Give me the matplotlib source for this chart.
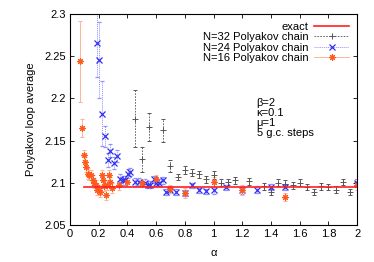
import matplotlib
matplotlib.use('Agg')
import matplotlib.pyplot as plt
from matplotlib.lines import Line2D
import numpy as np

# exact value
exact_x = [0.1, 2.0]
exact_y = [2.0955, 2.0955]

# N=32 Polyakov chain
a32 = [0.45, 0.5, 0.55, 0.65, 0.7, 0.75, 0.8, 0.85, 0.9, 0.95, 1.0, 1.05, 1.1, 1.15,
       1.25, 1.35, 1.4, 1.45, 1.5, 1.55, 1.6, 1.65, 1.7, 1.75, 1.8, 1.85, 1.9, 1.95, 2.0]
v32 = [2.176, 2.128, 2.166, 2.162, 2.12, 2.107, 2.115, 2.112, 2.110, 2.104, 2.109, 2.100,
       2.101, 2.103, 2.102, 2.096, 2.089, 2.100, 2.099, 2.097, 2.100, 2.095, 2.089, 2.096,
       2.095, 2.092, 2.101, 2.089, 2.101]
e32 = [0.034, 0.015, 0.017, 0.014, 0.007, 0.004, 0.005, 0.004, 0.004, 0.004, 0.005, 0.004,
       0.004, 0.004, 0.004, 0.004, 0.004, 0.004, 0.004, 0.004, 0.004, 0.004, 0.004, 0.004,
       0.004, 0.004, 0.004, 0.004, 0.004]

# N=24 Polyakov chain
a24 = [0.19, 0.205, 0.225, 0.245, 0.267, 0.28, 0.31, 0.325, 0.35, 0.37, 0.38, 0.405, 0.42,
       0.45, 0.48, 0.52, 0.545, 0.56, 0.585, 0.6, 0.62, 0.645, 0.67, 0.7, 0.74, 0.8, 0.85,
       0.9, 0.95, 1.0, 1.09, 1.2, 1.3, 1.4, 1.5, 2.0]
v24 = [2.265, 2.245, 2.182, 2.155, 2.127, 2.138, 2.123, 2.132, 2.105, 2.103, 2.103, 2.111,
       2.113, 2.101, 2.101, 2.100, 2.098, 2.098, 2.104, 2.100, 2.100, 2.103, 2.089, 2.092,
       2.089, 2.088, 2.097, 2.091, 2.090, 2.091, 2.095, 2.091, 2.092, 2.095, 2.095, 2.100]
e24 = [0.040, 0.045, 0.038, 0.012, 0.008, 0.008, 0.007, 0.007, 0.005, 0.005, 0.005, 0.005,
       0.005, 0.005, 0.005, 0.004, 0.004, 0.004, 0.004, 0.004, 0.004, 0.004, 0.004, 0.004,
       0.004, 0.004, 0.003, 0.003, 0.003, 0.004, 0.003, 0.004, 0.004, 0.004, 0.003, 0.004]

# N=16 Polyakov chain
a16 = [0.07, 0.085, 0.095, 0.105, 0.115, 0.125, 0.135, 0.145, 0.16, 0.17, 0.18, 0.19, 0.2,
       0.21, 0.22, 0.23, 0.24, 0.25, 0.26, 0.27, 0.28, 0.29, 0.34, 0.4, 0.5, 0.6, 0.7, 0.8,
       1.0, 1.2, 1.5, 2.0]
v16 = [2.244, 2.165, 2.133, 2.125, 2.119, 2.111, 2.109, 2.109, 2.103, 2.100, 2.097, 2.092,
       2.091, 2.089, 2.109, 2.103, 2.096, 2.086, 2.097, 2.109, 2.101, 2.094, 2.097, 2.101,
       2.100, 2.104, 2.093, 2.088, 2.101, 2.091, 2.083, 2.097]
e16 = [0.048, 0.011, 0.006, 0.006, 0.006, 0.006, 0.006, 0.006, 0.006, 0.006, 0.006, 0.006,
       0.006, 0.006, 0.006, 0.006, 0.006, 0.006, 0.006, 0.006, 0.006, 0.006, 0.005, 0.005,
       0.005, 0.005, 0.005, 0.006, 0.006, 0.006, 0.005, 0.005]

plt.rcParams['font.family'] = ['Liberation Sans', 'DejaVu Sans']
plt.rcParams['font.size'] = 8

fig = plt.figure(figsize=(3.74, 2.62), dpi=100)
ax = fig.add_axes([0.187, 0.141, 0.768, 0.806])

ax.plot(exact_x, exact_y, color='#ff2020', lw=1.2, zorder=5)

eb = ax.errorbar(a32, v32, yerr=e32, linestyle='none', marker='+', color='#555555', ms=4, mew=0.7,
                 ecolor='#555555', elinewidth=0.6, capsize=1.5, capthick=0.6)
eb[2][0].set_linestyle((0, (2, 1.5)))

eb = ax.errorbar(a24, v24, yerr=e24, linestyle='none', marker='x', color='#3030f0', ms=4, mew=0.9,
                 ecolor='#9090ff', elinewidth=0.7, capsize=1.5, capthick=0.7)
eb[2][0].set_linestyle((0, (1, 1)))

eb = ax.errorbar(a16, v16, yerr=e16, linestyle='none', marker=(8, 2, 0), color='#ff5a1e',
                 ms=4.5, mew=0.8, ecolor='#ffb49a', elinewidth=0.7, capsize=1.5,
                 capthick=0.7)

# gnuplot-like legend keys (horizontal line + marker)
handles = [
    Line2D([], [], color='#ff2020', lw=1.2),
    Line2D([], [], color='#555555', lw=0.6, linestyle=(0, (2, 1.5)), marker='+',
           ms=4, mew=0.7),
    Line2D([], [], color='#9090ff', lw=0.7, linestyle=(0, (1, 1)), marker='x',
           ms=4, mew=0.9, mec='#3030f0'),
    Line2D([], [], color='#ffb49a', lw=0.7, marker=(8, 2, 0), ms=4.5, mew=0.8,
           mec='#ff5a1e'),
]
labels = ['exact', 'N=32 Polyakov chain', 'N=24 Polyakov chain', 'N=16 Polyakov chain']

ax.set_xlim(0, 2)
ax.set_ylim(2.05, 2.3)
ax.set_xticks(np.arange(0, 2.01, 0.2))
ax.set_xticklabels(['0', '0.2', '0.4', '0.6', '0.8', '1', '1.2', '1.4', '1.6', '1.8', '2'])
ax.set_yticks([2.05, 2.1, 2.15, 2.2, 2.25, 2.3])
ax.set_yticklabels(['2.05', '2.1', '2.15', '2.2', '2.25', '2.3'])
ax.tick_params(direction='in', top=True, right=True, length=3, width=0.6, pad=3)
for s in ax.spines.values():
    s.set_linewidth(0.8)

ax.set_xlabel('α', labelpad=6)
ax.set_ylabel('Polyakov loop average', labelpad=6)

ax.legend(handles, labels, loc='upper right', frameon=False, markerfirst=False,
          handlelength=3.2, borderaxespad=0.3, labelspacing=0.05, handletextpad=0.5,
          fontsize=8)

ax.text(1.3, 2.201, 'β=2\nκ=0.1\nμ=1\n5 g.c. steps', fontsize=8, va='top',
        linespacing=1.0)

fig.savefig('out.png', dpi=100)
